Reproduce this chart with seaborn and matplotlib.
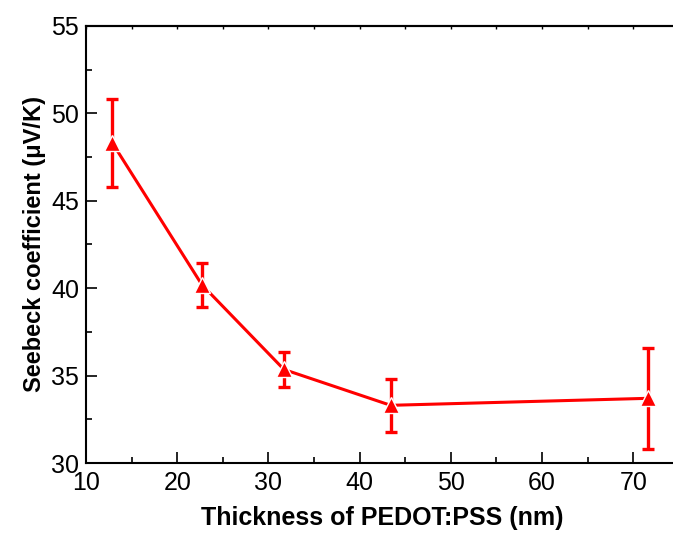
import matplotlib
matplotlib.use("Agg")
import matplotlib.pyplot as plt
from matplotlib.ticker import MultipleLocator
import seaborn as sns

# thickness of PEDOT:PSS film (nm) and measured Seebeck coefficient (uV/K)
thickness = [12.9, 22.7, 31.7, 43.4, 71.6]
seebeck = [48.3, 40.2, 35.35, 33.3, 33.7]
seebeck_err = [2.5, 1.25, 1.0, 1.5, 2.9]

sns.set_style("ticks")
plt.rcParams['font.family'] = ['Liberation Sans', 'DejaVu Sans']
plt.rcParams['text.color'] = 'black'
plt.rcParams['axes.labelcolor'] = 'black'
plt.rcParams['xtick.color'] = 'black'
plt.rcParams['ytick.color'] = 'black'
plt.rcParams['axes.edgecolor'] = 'black'

fig = plt.figure(figsize=(6.73, 5.38), dpi=100)
ax = fig.add_axes([0.1278, 0.1394, 0.881, 0.8123])

ax.errorbar(thickness, seebeck, yerr=seebeck_err, fmt='none', ecolor='red',
            elinewidth=2.4, capsize=4.5, capthick=2.4, zorder=2)
sns.lineplot(x=thickness, y=seebeck, ax=ax, color='red', linewidth=2.2,
             marker='^', markersize=11, markeredgecolor='white',
             markeredgewidth=1.0, zorder=3)

ax.set_xlim(10, 75)
ax.set_ylim(30, 55)
ax.xaxis.set_major_locator(MultipleLocator(10))
ax.xaxis.set_minor_locator(MultipleLocator(5))
ax.yaxis.set_major_locator(MultipleLocator(5))
ax.yaxis.set_minor_locator(MultipleLocator(2.5))

ax.tick_params(which='major', direction='in', length=8, width=1.2,
               labelsize=18)
ax.tick_params(axis='x', which='major', pad=6)
ax.tick_params(axis='y', which='major', pad=5)
ax.tick_params(which='minor', direction='in', length=4.5, width=1.2)
ax.tick_params(axis='x', which='both', top=False)

top = ax.secondary_xaxis('top')
top.xaxis.set_major_locator(MultipleLocator(5))
top.tick_params(direction='in', length=2.5, width=1.0, labeltop=False)
top.spines['top'].set_linewidth(1.5)

for s in ['left', 'bottom', 'top']:
    ax.spines[s].set_linewidth(1.5)
ax.spines['right'].set_visible(False)

ax.set_xlabel('Thickness of PEDOT:PSS (nm)', fontsize=18, fontweight='bold',
              labelpad=8)
ax.set_ylabel('Seebeck coefficient (\u03bcV/K)', fontsize=17,
              fontweight='bold', labelpad=4)

fig.savefig('out.png', dpi=100)
